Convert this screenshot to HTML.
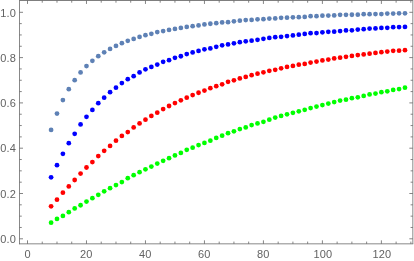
<!DOCTYPE html>
<html><head><meta charset="utf-8"><title>plot</title>
<style>html,body{margin:0;padding:0;background:#fff;}body{width:414px;height:261px;overflow:hidden;}svg{display:block;}text{font-family:"Liberation Sans",sans-serif;font-size:11px;letter-spacing:0.12px;fill:#626262;}</style>
</head><body>
<svg width="414" height="261" viewBox="0 0 414 261" style="will-change:transform;opacity:0.999">
<rect x="0" y="0" width="414" height="261" fill="#ffffff"/>
<g stroke="#666666" stroke-width="0.8" fill="none">
<line x1="27.50" y1="243.84" x2="27.50" y2="240.34"/>
<line x1="27.50" y1="0.45" x2="27.50" y2="3.95"/>
<line x1="42.24" y1="243.84" x2="42.24" y2="241.59"/>
<line x1="42.24" y1="0.45" x2="42.24" y2="2.70"/>
<line x1="56.99" y1="243.84" x2="56.99" y2="241.59"/>
<line x1="56.99" y1="0.45" x2="56.99" y2="2.70"/>
<line x1="71.73" y1="243.84" x2="71.73" y2="241.59"/>
<line x1="71.73" y1="0.45" x2="71.73" y2="2.70"/>
<line x1="86.48" y1="243.84" x2="86.48" y2="240.34"/>
<line x1="86.48" y1="0.45" x2="86.48" y2="3.95"/>
<line x1="101.22" y1="243.84" x2="101.22" y2="241.59"/>
<line x1="101.22" y1="0.45" x2="101.22" y2="2.70"/>
<line x1="115.97" y1="243.84" x2="115.97" y2="241.59"/>
<line x1="115.97" y1="0.45" x2="115.97" y2="2.70"/>
<line x1="130.71" y1="243.84" x2="130.71" y2="241.59"/>
<line x1="130.71" y1="0.45" x2="130.71" y2="2.70"/>
<line x1="145.46" y1="243.84" x2="145.46" y2="240.34"/>
<line x1="145.46" y1="0.45" x2="145.46" y2="3.95"/>
<line x1="160.20" y1="243.84" x2="160.20" y2="241.59"/>
<line x1="160.20" y1="0.45" x2="160.20" y2="2.70"/>
<line x1="174.95" y1="243.84" x2="174.95" y2="241.59"/>
<line x1="174.95" y1="0.45" x2="174.95" y2="2.70"/>
<line x1="189.69" y1="243.84" x2="189.69" y2="241.59"/>
<line x1="189.69" y1="0.45" x2="189.69" y2="2.70"/>
<line x1="204.44" y1="243.84" x2="204.44" y2="240.34"/>
<line x1="204.44" y1="0.45" x2="204.44" y2="3.95"/>
<line x1="219.19" y1="243.84" x2="219.19" y2="241.59"/>
<line x1="219.19" y1="0.45" x2="219.19" y2="2.70"/>
<line x1="233.93" y1="243.84" x2="233.93" y2="241.59"/>
<line x1="233.93" y1="0.45" x2="233.93" y2="2.70"/>
<line x1="248.67" y1="243.84" x2="248.67" y2="241.59"/>
<line x1="248.67" y1="0.45" x2="248.67" y2="2.70"/>
<line x1="263.42" y1="243.84" x2="263.42" y2="240.34"/>
<line x1="263.42" y1="0.45" x2="263.42" y2="3.95"/>
<line x1="278.16" y1="243.84" x2="278.16" y2="241.59"/>
<line x1="278.16" y1="0.45" x2="278.16" y2="2.70"/>
<line x1="292.91" y1="243.84" x2="292.91" y2="241.59"/>
<line x1="292.91" y1="0.45" x2="292.91" y2="2.70"/>
<line x1="307.65" y1="243.84" x2="307.65" y2="241.59"/>
<line x1="307.65" y1="0.45" x2="307.65" y2="2.70"/>
<line x1="322.40" y1="243.84" x2="322.40" y2="240.34"/>
<line x1="322.40" y1="0.45" x2="322.40" y2="3.95"/>
<line x1="337.14" y1="243.84" x2="337.14" y2="241.59"/>
<line x1="337.14" y1="0.45" x2="337.14" y2="2.70"/>
<line x1="351.89" y1="243.84" x2="351.89" y2="241.59"/>
<line x1="351.89" y1="0.45" x2="351.89" y2="2.70"/>
<line x1="366.63" y1="243.84" x2="366.63" y2="241.59"/>
<line x1="366.63" y1="0.45" x2="366.63" y2="2.70"/>
<line x1="381.38" y1="243.84" x2="381.38" y2="240.34"/>
<line x1="381.38" y1="0.45" x2="381.38" y2="3.95"/>
<line x1="396.12" y1="243.84" x2="396.12" y2="241.59"/>
<line x1="396.12" y1="0.45" x2="396.12" y2="2.70"/>
<line x1="410.87" y1="243.84" x2="410.87" y2="241.59"/>
<line x1="410.87" y1="0.45" x2="410.87" y2="2.70"/>
<line x1="19.50" y1="238.80" x2="23.00" y2="238.80"/>
<line x1="412.84" y1="238.80" x2="409.34" y2="238.80"/>
<line x1="19.50" y1="227.48" x2="21.75" y2="227.48"/>
<line x1="412.84" y1="227.48" x2="410.59" y2="227.48"/>
<line x1="19.50" y1="216.15" x2="21.75" y2="216.15"/>
<line x1="412.84" y1="216.15" x2="410.59" y2="216.15"/>
<line x1="19.50" y1="204.82" x2="21.75" y2="204.82"/>
<line x1="412.84" y1="204.82" x2="410.59" y2="204.82"/>
<line x1="19.50" y1="193.50" x2="23.00" y2="193.50"/>
<line x1="412.84" y1="193.50" x2="409.34" y2="193.50"/>
<line x1="19.50" y1="182.18" x2="21.75" y2="182.18"/>
<line x1="412.84" y1="182.18" x2="410.59" y2="182.18"/>
<line x1="19.50" y1="170.85" x2="21.75" y2="170.85"/>
<line x1="412.84" y1="170.85" x2="410.59" y2="170.85"/>
<line x1="19.50" y1="159.53" x2="21.75" y2="159.53"/>
<line x1="412.84" y1="159.53" x2="410.59" y2="159.53"/>
<line x1="19.50" y1="148.20" x2="23.00" y2="148.20"/>
<line x1="412.84" y1="148.20" x2="409.34" y2="148.20"/>
<line x1="19.50" y1="136.88" x2="21.75" y2="136.88"/>
<line x1="412.84" y1="136.88" x2="410.59" y2="136.88"/>
<line x1="19.50" y1="125.55" x2="21.75" y2="125.55"/>
<line x1="412.84" y1="125.55" x2="410.59" y2="125.55"/>
<line x1="19.50" y1="114.22" x2="21.75" y2="114.22"/>
<line x1="412.84" y1="114.22" x2="410.59" y2="114.22"/>
<line x1="19.50" y1="102.90" x2="23.00" y2="102.90"/>
<line x1="412.84" y1="102.90" x2="409.34" y2="102.90"/>
<line x1="19.50" y1="91.58" x2="21.75" y2="91.58"/>
<line x1="412.84" y1="91.58" x2="410.59" y2="91.58"/>
<line x1="19.50" y1="80.25" x2="21.75" y2="80.25"/>
<line x1="412.84" y1="80.25" x2="410.59" y2="80.25"/>
<line x1="19.50" y1="68.93" x2="21.75" y2="68.93"/>
<line x1="412.84" y1="68.93" x2="410.59" y2="68.93"/>
<line x1="19.50" y1="57.60" x2="23.00" y2="57.60"/>
<line x1="412.84" y1="57.60" x2="409.34" y2="57.60"/>
<line x1="19.50" y1="46.27" x2="21.75" y2="46.27"/>
<line x1="412.84" y1="46.27" x2="410.59" y2="46.27"/>
<line x1="19.50" y1="34.95" x2="21.75" y2="34.95"/>
<line x1="412.84" y1="34.95" x2="410.59" y2="34.95"/>
<line x1="19.50" y1="23.62" x2="21.75" y2="23.62"/>
<line x1="412.84" y1="23.62" x2="410.59" y2="23.62"/>
<line x1="19.50" y1="12.30" x2="23.00" y2="12.30"/>
<line x1="412.84" y1="12.30" x2="409.34" y2="12.30"/>
</g>
<g stroke="#666666" stroke-width="0.78" fill="none">
<line x1="19.50" y1="0.00" x2="19.50" y2="244.23"/>
<line x1="19.11" y1="243.84" x2="413.23" y2="243.84"/>
<line x1="19.50" y1="0.50" x2="412.84" y2="0.50" stroke-width="0.84"/>
<line x1="412.84" y1="0.00" x2="412.84" y2="243.84"/>
</g>
<text x="27.70" y="257.6" text-anchor="middle">0</text>
<text x="86.28" y="257.6" text-anchor="middle">20</text>
<text x="145.26" y="257.6" text-anchor="middle">40</text>
<text x="204.24" y="257.6" text-anchor="middle">60</text>
<text x="263.22" y="257.6" text-anchor="middle">80</text>
<text x="322.90" y="257.6" text-anchor="middle">100</text>
<text x="381.88" y="257.6" text-anchor="middle">120</text>
<text x="15.9" y="243.00" text-anchor="end">0.0</text>
<text x="15.9" y="197.70" text-anchor="end">0.2</text>
<text x="15.9" y="152.40" text-anchor="end">0.4</text>
<text x="15.9" y="107.10" text-anchor="end">0.6</text>
<text x="15.9" y="61.80" text-anchor="end">0.8</text>
<text x="15.9" y="16.50" text-anchor="end">1.0</text>
<g fill="#00ff00">
<circle cx="51.09" cy="222.74" r="2.38"/>
<circle cx="56.99" cy="218.99" r="2.38"/>
<circle cx="62.89" cy="215.89" r="2.38"/>
<circle cx="68.79" cy="212.15" r="2.38"/>
<circle cx="74.68" cy="208.41" r="2.38"/>
<circle cx="80.58" cy="205.25" r="2.38"/>
<circle cx="86.48" cy="201.53" r="2.38"/>
<circle cx="92.38" cy="198.24" r="2.38"/>
<circle cx="98.28" cy="194.84" r="2.38"/>
<circle cx="104.17" cy="191.34" r="2.38"/>
<circle cx="110.07" cy="188.22" r="2.38"/>
<circle cx="115.97" cy="185.05" r="2.38"/>
<circle cx="121.87" cy="182.11" r="2.38"/>
<circle cx="127.77" cy="178.17" r="2.38"/>
<circle cx="133.66" cy="175.18" r="2.38"/>
<circle cx="139.56" cy="172.13" r="2.38"/>
<circle cx="145.46" cy="169.36" r="2.38"/>
<circle cx="151.36" cy="166.56" r="2.38"/>
<circle cx="157.26" cy="163.56" r="2.38"/>
<circle cx="163.15" cy="160.76" r="2.38"/>
<circle cx="169.05" cy="158.19" r="2.38"/>
<circle cx="174.95" cy="155.42" r="2.38"/>
<circle cx="180.85" cy="152.88" r="2.38"/>
<circle cx="186.75" cy="149.76" r="2.38"/>
<circle cx="192.64" cy="147.63" r="2.38"/>
<circle cx="198.54" cy="145.10" r="2.38"/>
<circle cx="204.44" cy="142.96" r="2.38"/>
<circle cx="210.34" cy="140.64" r="2.38"/>
<circle cx="216.24" cy="137.96" r="2.38"/>
<circle cx="222.13" cy="135.67" r="2.38"/>
<circle cx="228.03" cy="133.17" r="2.38"/>
<circle cx="233.93" cy="131.36" r="2.38"/>
<circle cx="239.83" cy="129.12" r="2.38"/>
<circle cx="245.73" cy="127.48" r="2.38"/>
<circle cx="251.62" cy="125.04" r="2.38"/>
<circle cx="257.52" cy="123.43" r="2.38"/>
<circle cx="263.42" cy="121.83" r="2.38"/>
<circle cx="269.32" cy="119.65" r="2.38"/>
<circle cx="275.22" cy="117.51" r="2.38"/>
<circle cx="281.11" cy="115.91" r="2.38"/>
<circle cx="287.01" cy="114.37" r="2.38"/>
<circle cx="292.91" cy="112.83" r="2.38"/>
<circle cx="298.81" cy="111.30" r="2.38"/>
<circle cx="304.71" cy="109.78" r="2.38"/>
<circle cx="310.60" cy="108.12" r="2.38"/>
<circle cx="316.50" cy="106.62" r="2.38"/>
<circle cx="322.40" cy="105.06" r="2.38"/>
<circle cx="328.30" cy="103.58" r="2.38"/>
<circle cx="334.20" cy="102.07" r="2.38"/>
<circle cx="340.09" cy="100.57" r="2.38"/>
<circle cx="345.99" cy="99.71" r="2.38"/>
<circle cx="351.89" cy="98.22" r="2.38"/>
<circle cx="357.79" cy="97.34" r="2.38"/>
<circle cx="363.69" cy="95.91" r="2.38"/>
<circle cx="369.58" cy="94.48" r="2.38"/>
<circle cx="375.48" cy="93.59" r="2.38"/>
<circle cx="381.38" cy="92.17" r="2.38"/>
<circle cx="387.28" cy="91.29" r="2.38"/>
<circle cx="393.18" cy="89.89" r="2.38"/>
<circle cx="399.07" cy="89.06" r="2.38"/>
<circle cx="404.97" cy="87.63" r="2.38"/>
</g>
<g fill="#ff0000">
<circle cx="51.09" cy="206.34" r="2.38"/>
<circle cx="56.99" cy="199.73" r="2.38"/>
<circle cx="62.89" cy="192.64" r="2.38"/>
<circle cx="68.79" cy="186.45" r="2.38"/>
<circle cx="74.68" cy="180.00" r="2.38"/>
<circle cx="80.58" cy="173.58" r="2.38"/>
<circle cx="86.48" cy="167.50" r="2.38"/>
<circle cx="92.38" cy="162.08" r="2.38"/>
<circle cx="98.28" cy="156.11" r="2.38"/>
<circle cx="104.17" cy="150.80" r="2.38"/>
<circle cx="110.07" cy="145.91" r="2.38"/>
<circle cx="115.97" cy="140.70" r="2.38"/>
<circle cx="121.87" cy="135.93" r="2.38"/>
<circle cx="127.77" cy="132.03" r="2.38"/>
<circle cx="133.66" cy="127.45" r="2.38"/>
<circle cx="139.56" cy="123.44" r="2.38"/>
<circle cx="145.46" cy="119.64" r="2.38"/>
<circle cx="151.36" cy="115.88" r="2.38"/>
<circle cx="157.26" cy="112.70" r="2.38"/>
<circle cx="163.15" cy="109.03" r="2.38"/>
<circle cx="169.05" cy="106.00" r="2.38"/>
<circle cx="174.95" cy="103.02" r="2.38"/>
<circle cx="180.85" cy="100.36" r="2.38"/>
<circle cx="186.75" cy="97.67" r="2.38"/>
<circle cx="192.64" cy="95.08" r="2.38"/>
<circle cx="198.54" cy="92.75" r="2.38"/>
<circle cx="204.44" cy="90.52" r="2.38"/>
<circle cx="210.34" cy="88.24" r="2.38"/>
<circle cx="216.24" cy="86.14" r="2.38"/>
<circle cx="222.13" cy="84.28" r="2.38"/>
<circle cx="228.03" cy="81.85" r="2.38"/>
<circle cx="233.93" cy="80.27" r="2.38"/>
<circle cx="239.83" cy="78.48" r="2.38"/>
<circle cx="245.73" cy="76.94" r="2.38"/>
<circle cx="251.62" cy="75.19" r="2.38"/>
<circle cx="257.52" cy="73.68" r="2.38"/>
<circle cx="263.42" cy="72.33" r="2.38"/>
<circle cx="269.32" cy="70.86" r="2.38"/>
<circle cx="275.22" cy="69.77" r="2.38"/>
<circle cx="281.11" cy="68.32" r="2.38"/>
<circle cx="287.01" cy="66.88" r="2.38"/>
<circle cx="292.91" cy="65.98" r="2.38"/>
<circle cx="298.81" cy="64.72" r="2.38"/>
<circle cx="304.71" cy="63.99" r="2.38"/>
<circle cx="310.60" cy="62.56" r="2.38"/>
<circle cx="316.50" cy="61.56" r="2.38"/>
<circle cx="322.40" cy="60.45" r="2.38"/>
<circle cx="328.30" cy="59.61" r="2.38"/>
<circle cx="334.20" cy="58.41" r="2.38"/>
<circle cx="340.09" cy="57.66" r="2.38"/>
<circle cx="345.99" cy="56.85" r="2.38"/>
<circle cx="351.89" cy="55.90" r="2.38"/>
<circle cx="357.79" cy="55.10" r="2.38"/>
<circle cx="363.69" cy="54.38" r="2.38"/>
<circle cx="369.58" cy="53.68" r="2.38"/>
<circle cx="375.48" cy="52.94" r="2.38"/>
<circle cx="381.38" cy="52.24" r="2.38"/>
<circle cx="387.28" cy="51.55" r="2.38"/>
<circle cx="393.18" cy="50.87" r="2.38"/>
<circle cx="399.07" cy="50.72" r="2.38"/>
<circle cx="404.97" cy="50.16" r="2.38"/>
</g>
<g fill="#0000ff">
<circle cx="51.09" cy="177.35" r="2.38"/>
<circle cx="56.99" cy="165.15" r="2.38"/>
<circle cx="62.89" cy="153.76" r="2.38"/>
<circle cx="68.79" cy="143.17" r="2.38"/>
<circle cx="74.68" cy="133.77" r="2.38"/>
<circle cx="80.58" cy="124.44" r="2.38"/>
<circle cx="86.48" cy="116.76" r="2.38"/>
<circle cx="92.38" cy="109.90" r="2.38"/>
<circle cx="98.28" cy="103.13" r="2.38"/>
<circle cx="104.17" cy="97.72" r="2.38"/>
<circle cx="110.07" cy="92.21" r="2.38"/>
<circle cx="115.97" cy="87.65" r="2.38"/>
<circle cx="121.87" cy="83.12" r="2.38"/>
<circle cx="127.77" cy="79.14" r="2.38"/>
<circle cx="133.66" cy="76.14" r="2.38"/>
<circle cx="139.56" cy="72.40" r="2.38"/>
<circle cx="145.46" cy="69.33" r="2.38"/>
<circle cx="151.36" cy="66.92" r="2.38"/>
<circle cx="157.26" cy="64.56" r="2.38"/>
<circle cx="163.15" cy="61.81" r="2.38"/>
<circle cx="169.05" cy="60.14" r="2.38"/>
<circle cx="174.95" cy="57.84" r="2.38"/>
<circle cx="180.85" cy="56.25" r="2.38"/>
<circle cx="186.75" cy="54.08" r="2.38"/>
<circle cx="192.64" cy="52.39" r="2.38"/>
<circle cx="198.54" cy="50.88" r="2.38"/>
<circle cx="204.44" cy="49.31" r="2.38"/>
<circle cx="210.34" cy="48.45" r="2.38"/>
<circle cx="216.24" cy="46.77" r="2.38"/>
<circle cx="222.13" cy="45.34" r="2.38"/>
<circle cx="228.03" cy="44.45" r="2.38"/>
<circle cx="233.93" cy="43.36" r="2.38"/>
<circle cx="239.83" cy="42.21" r="2.38"/>
<circle cx="245.73" cy="41.29" r="2.38"/>
<circle cx="251.62" cy="40.69" r="2.38"/>
<circle cx="257.52" cy="39.87" r="2.38"/>
<circle cx="263.42" cy="38.77" r="2.38"/>
<circle cx="269.32" cy="37.98" r="2.38"/>
<circle cx="275.22" cy="37.19" r="2.38"/>
<circle cx="281.11" cy="36.86" r="2.38"/>
<circle cx="287.01" cy="36.10" r="2.38"/>
<circle cx="292.91" cy="35.41" r="2.38"/>
<circle cx="298.81" cy="34.66" r="2.38"/>
<circle cx="304.71" cy="33.98" r="2.38"/>
<circle cx="310.60" cy="33.24" r="2.38"/>
<circle cx="316.50" cy="33.10" r="2.38"/>
<circle cx="322.40" cy="32.37" r="2.38"/>
<circle cx="328.30" cy="31.79" r="2.38"/>
<circle cx="334.20" cy="31.67" r="2.38"/>
<circle cx="340.09" cy="31.02" r="2.38"/>
<circle cx="345.99" cy="30.38" r="2.38"/>
<circle cx="351.89" cy="30.27" r="2.38"/>
<circle cx="357.79" cy="29.57" r="2.38"/>
<circle cx="363.69" cy="29.16" r="2.38"/>
<circle cx="369.58" cy="28.54" r="2.38"/>
<circle cx="375.48" cy="28.44" r="2.38"/>
<circle cx="381.38" cy="27.90" r="2.38"/>
<circle cx="387.28" cy="27.81" r="2.38"/>
<circle cx="393.18" cy="27.13" r="2.38"/>
<circle cx="399.07" cy="27.04" r="2.38"/>
<circle cx="404.97" cy="26.96" r="2.38"/>
</g>
<g fill="#5e81b5">
<circle cx="51.09" cy="129.91" r="2.38"/>
<circle cx="56.99" cy="113.56" r="2.38"/>
<circle cx="62.89" cy="100.02" r="2.38"/>
<circle cx="68.79" cy="89.13" r="2.38"/>
<circle cx="74.68" cy="80.14" r="2.38"/>
<circle cx="80.58" cy="72.41" r="2.38"/>
<circle cx="86.48" cy="66.10" r="2.38"/>
<circle cx="92.38" cy="60.78" r="2.38"/>
<circle cx="98.28" cy="56.17" r="2.38"/>
<circle cx="104.17" cy="52.33" r="2.38"/>
<circle cx="110.07" cy="48.99" r="2.38"/>
<circle cx="115.97" cy="45.99" r="2.38"/>
<circle cx="121.87" cy="43.22" r="2.38"/>
<circle cx="127.77" cy="40.76" r="2.38"/>
<circle cx="133.66" cy="38.88" r="2.38"/>
<circle cx="139.56" cy="36.88" r="2.38"/>
<circle cx="145.46" cy="35.14" r="2.38"/>
<circle cx="151.36" cy="33.78" r="2.38"/>
<circle cx="157.26" cy="32.08" r="2.38"/>
<circle cx="163.15" cy="31.02" r="2.38"/>
<circle cx="169.05" cy="29.98" r="2.38"/>
<circle cx="174.95" cy="28.96" r="2.38"/>
<circle cx="180.85" cy="27.96" r="2.38"/>
<circle cx="186.75" cy="26.99" r="2.38"/>
<circle cx="192.64" cy="26.17" r="2.38"/>
<circle cx="198.54" cy="25.45" r="2.38"/>
<circle cx="204.44" cy="24.45" r="2.38"/>
<circle cx="210.34" cy="23.75" r="2.38"/>
<circle cx="216.24" cy="23.21" r="2.38"/>
<circle cx="222.13" cy="22.46" r="2.38"/>
<circle cx="228.03" cy="22.17" r="2.38"/>
<circle cx="233.93" cy="21.36" r="2.38"/>
<circle cx="239.83" cy="20.67" r="2.38"/>
<circle cx="245.73" cy="20.07" r="2.38"/>
<circle cx="251.62" cy="19.95" r="2.38"/>
<circle cx="257.52" cy="19.32" r="2.38"/>
<circle cx="263.42" cy="19.14" r="2.38"/>
<circle cx="269.32" cy="18.52" r="2.38"/>
<circle cx="275.22" cy="18.43" r="2.38"/>
<circle cx="281.11" cy="17.82" r="2.38"/>
<circle cx="287.01" cy="17.73" r="2.38"/>
<circle cx="292.91" cy="17.28" r="2.38"/>
<circle cx="298.81" cy="17.20" r="2.38"/>
<circle cx="304.71" cy="16.90" r="2.38"/>
<circle cx="310.60" cy="16.23" r="2.38"/>
<circle cx="316.50" cy="16.16" r="2.38"/>
<circle cx="322.40" cy="15.72" r="2.38"/>
<circle cx="328.30" cy="15.51" r="2.38"/>
<circle cx="334.20" cy="15.45" r="2.38"/>
<circle cx="340.09" cy="14.86" r="2.38"/>
<circle cx="345.99" cy="14.81" r="2.38"/>
<circle cx="351.89" cy="14.75" r="2.38"/>
<circle cx="357.79" cy="14.70" r="2.38"/>
<circle cx="363.69" cy="14.20" r="2.38"/>
<circle cx="369.58" cy="14.15" r="2.38"/>
<circle cx="375.48" cy="14.10" r="2.38"/>
<circle cx="381.38" cy="14.06" r="2.38"/>
<circle cx="387.28" cy="13.56" r="2.38"/>
<circle cx="393.18" cy="13.52" r="2.38"/>
<circle cx="399.07" cy="13.33" r="2.38"/>
<circle cx="404.97" cy="13.29" r="2.38"/>
</g>
</svg></body></html>
